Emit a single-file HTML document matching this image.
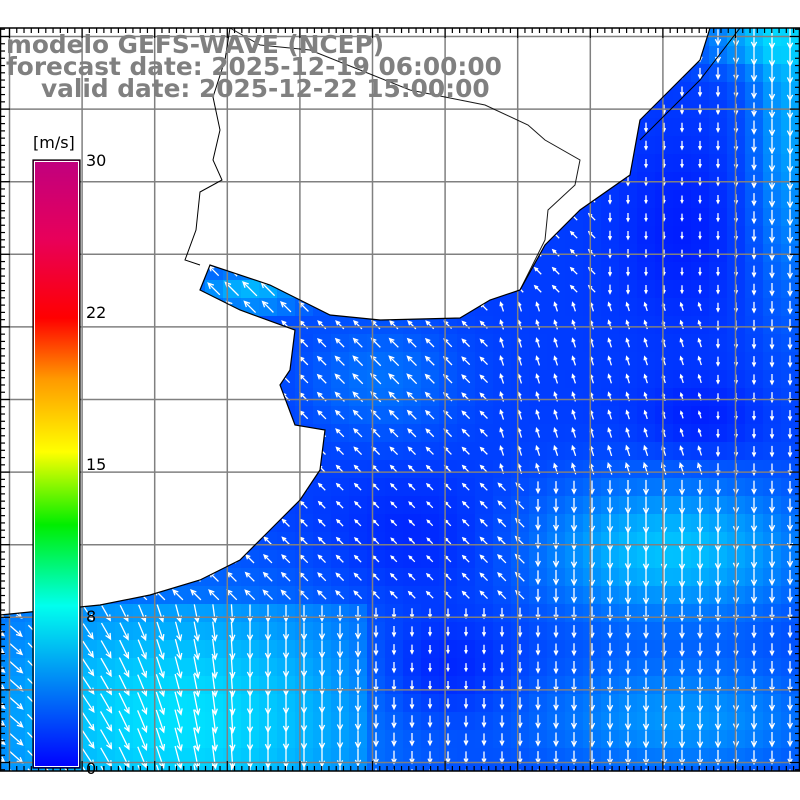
<!DOCTYPE html>
<html><head><meta charset="utf-8"><style>
html,body{margin:0;padding:0;background:#fff;width:800px;height:800px;overflow:hidden}
svg{display:block}
</style></head><body>
<svg id="s" width="800" height="800" xmlns="http://www.w3.org/2000/svg">
<defs>
<linearGradient id="cb" x1="0" y1="1" x2="0" y2="0">
<stop offset="0" stop-color="#0000ff"/>
<stop offset="0.2667" stop-color="#00ffee"/>
<stop offset="0.4" stop-color="#00ee00"/>
<stop offset="0.52" stop-color="#ffff00"/>
<stop offset="0.64" stop-color="#ff9900"/>
<stop offset="0.74" stop-color="#ff0000"/>
<stop offset="0.87" stop-color="#e8005a"/>
<stop offset="1" stop-color="#c0007f"/>
</linearGradient>
<clipPath id="oc"><polygon id="ocp" points="710,28 800,28 800,771 0,771 0,615 100,605 150,595 200,580 240,560 270,530 300,500 320,470 325,430 295,425 280,385 290,370 295,330 240,310 200,290 210,265 270,285 300,300 330,315 380,320 460,318 490,300 520,290 545,245 580,210 630,175 640,120 670,90 700,60"/></clipPath>
</defs>
<g id="data" clip-path="url(#oc)"></g>
<g id="arr" clip-path="url(#oc)" stroke="#fff" stroke-width="1.3" fill="none"></g>
<g id="grid" stroke="#808080" stroke-width="1.5"></g>
<polyline points="710,28 700,60 670,90 640,120 630,175 580,210 545,245 520,290 490,300 460,318 380,320 330,315 300,300 270,285 210,265 200,290 240,310 295,330 290,370 280,385 295,425 325,430 320,470 300,500 270,530 240,560 200,580 150,595 100,605 0,615" fill="none" stroke="#000" stroke-width="1.2"/>
<polyline points="230,28 225,60 213,97 220,130 213,160 222,180 200,192 196,230 185,260 200,265" fill="none" stroke="#000" stroke-width="1"/>
<polyline points="520,290 545,240 548,210 575,185 580,160 545,140 528,125 485,105 410,90 360,70 310,50 260,45 230,28" fill="none" stroke="#000" stroke-width="1" opacity="0.9"/>
<polyline points="740,28 700,80 660,120 640,140" fill="none" stroke="#000" stroke-width="1"/>
<g id="ticks" stroke="#000" stroke-width="1.2"></g>
<rect x="0.5" y="28" width="799" height="743" fill="none" stroke="#000" stroke-width="1.5"/>
<rect x="33" y="160" width="47" height="608" fill="url(#cb)" stroke="#000" stroke-width="1.2"/>
<rect x="34.5" y="161.5" width="44" height="605" fill="none" stroke="#fff" stroke-width="1"/>
<g font-family="DejaVu Sans, Liberation Sans, sans-serif" font-size="16" fill="#000">
<text x="33" y="148">[m/s]</text>
<text x="86" y="166">30</text>
<text x="86" y="318">22</text>
<text x="86" y="470">15</text>
<text x="86" y="622">8</text>
<text x="86" y="774">0</text>
</g>
<g font-family="DejaVu Sans, Liberation Sans, sans-serif" font-size="24.8" font-weight="bold" fill="#808080">
<text x="6" y="53">modelo GEFS-WAVE (NCEP)</text>
<text x="6" y="75">forecast date: 2025-12-19 06:00:00</text>
<text x="41" y="97">valid date: 2025-12-22 15:00:00</text>
</g>
</svg>
<script>
const NS="http://www.w3.org/2000/svg";
function el(t,a,p){const e=document.createElementNS(NS,t);for(const k in a)e.setAttribute(k,a[k]);p.appendChild(e);return e;}
const blobs=[
 [180,720,200,130,4.5],[440,670,70,50,-1.5],[670,550,140,70,4.5],[790,100,40,200,3.5],[750,40,60,30,3],
 [380,380,80,60,1.8],[420,540,90,60,-1],[680,230,60,90,-1],[700,420,60,40,-1],[250,290,60,25,4],[680,720,150,60,3]
];
function spd(x,y){let s=2.0;for(const b of blobs){const dx=(x-b[0])/b[2],dy=(y-b[1])/b[3];s+=b[4]*Math.exp(-(dx*dx+dy*dy));}
 if(y>600&&x<370)s+=1; return Math.max(0.5,Math.min(8.5,s));}
function col(s){const t=s/8;return "rgb(0,"+Math.round(Math.min(1,t)*240)+",255)";}
function dir(x,y){
 if(y>600) return Math.PI/2 - (x<250?0.9*(250-x)/250:0) ;
 if(x>600 && y<300) return Math.PI/2;
 if(x>700) return Math.PI/2;
 if(y>470 && x>520) return Math.PI/2;
 if(x>500 && y>300 && y<470) return -Math.PI*0.6;
 return -Math.PI*0.75;
}
const d=document.getElementById("data"),a=document.getElementById("arr");
for(let y=10-18;y<780;y+=18)for(let x=-11;x<800;x+=18){
 const s=spd(x+9,y+9);
 el("rect",{x:x,y:y,width:18.5,height:18.5,fill:col(s)},d);
 const ang=dir(x+9,y+9),L=4+s*2.6,cx=x+9,cy=y+9;
 const ex=cx+Math.cos(ang)*L/2,ey=cy+Math.sin(ang)*L/2,sx=cx-Math.cos(ang)*L/2,sy=cy-Math.sin(ang)*L/2;
 const h=Math.min(6,L*0.4);
 el("path",{d:`M${sx},${sy}L${ex},${ey}M${ex-Math.cos(ang-0.45)*h},${ey-Math.sin(ang-0.45)*h}L${ex},${ey}L${ex-Math.cos(ang+0.45)*h},${ey-Math.sin(ang+0.45)*h}`},a);
}
const g=document.getElementById("grid");
for(let i=0;i<11;i++){const x=9.5+i*72.6;el("line",{x1:x,y1:28,x2:x,y2:771},g);}
for(let i=0;i<11;i++){const y=36.5+i*72.6;el("line",{x1:0,y1:y,x2:800,y2:y},g);}
const t=document.getElementById("ticks");
for(let i=0;i<=110;i++){const x=9.5+i*7.26;const L=i%10==0?10:5;el("line",{x1:x,y1:28,x2:x,y2:28+L},t);el("line",{x1:x,y1:771,x2:x,y2:771-L},t);}
for(let i=-1;i<=103;i++){const y=36.5+i*7.26;if(y<28||y>771)continue;const L=i%10==0?10:5;el("line",{x1:0,y1:y,x2:L,y2:y},t);el("line",{x1:800,y1:y,x2:800-L,y2:y},t);}
</script>
</body></html>
